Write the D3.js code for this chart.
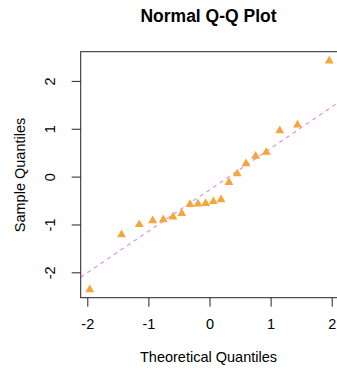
<!DOCTYPE html>
<html>
<head>
<meta charset="utf-8">
<script src="https://cdn.jsdelivr.net/npm/d3@7"></script>
<style>
  body { margin: 0; background: #fff; }
  text { font-family: "Liberation Sans", Arial, sans-serif; fill: #000; }
</style>
</head>
<body>
<div id="chart"></div>
<script>
// theoretical normal quantiles (n = 20)
const theoretical = [-1.96, -1.44, -1.15, -0.93, -0.755, -0.598, -0.454, -0.319, -0.189, -0.063,
  0.063, 0.189, 0.319, 0.454, 0.598, 0.755, 0.93, 1.15, 1.44, 1.96];
// sample quantiles, sorted
const sample = [-2.34, -1.19, -0.98, -0.90, -0.88, -0.82, -0.75, -0.56, -0.55, -0.54,
  -0.50, -0.46, -0.10, 0.08, 0.29, 0.45, 0.53, 0.98, 1.10, 2.44];
const xTicks = [-2, -1, 0, 1, 2];
const yTicks = [-2, -1, 0, 1, 2];
// reference line (qqline)
const lineIntercept = -0.277;
const lineSlope = 0.865;

const width = 337, height = 371;
const plot = { left: 80.7, right: 337.5, top: 51.7, bottom: 297.7 };

const x = d3.scaleLinear().domain([-2.108, 2.095]).range([plot.left, plot.right]);
const y = d3.scaleLinear().domain([-2.53, 2.61]).range([plot.bottom, plot.top]);

const svg = d3.select("#chart").append("svg")
  .attr("width", width)
  .attr("height", height);

svg.append("defs").append("clipPath").attr("id", "clip")
  .append("rect")
  .attr("x", plot.left).attr("y", plot.top)
  .attr("width", plot.right - plot.left).attr("height", plot.bottom - plot.top);

// title
svg.append("text")
  .attr("x", 208.5)
  .attr("y", 22)
  .attr("text-anchor", "middle")
  .style("font-size", "17.5px")
  .style("font-weight", "bold")
  .text("Normal Q-Q Plot");

// qq line
const xd = x.domain();
svg.append("line")
  .attr("clip-path", "url(#clip)")
  .attr("x1", x(xd[0])).attr("y1", y(lineIntercept + lineSlope * xd[0]))
  .attr("x2", x(xd[1])).attr("y2", y(lineIntercept + lineSlope * xd[1]))
  .attr("stroke", "#e58ef0")
  .attr("stroke-width", 1.2)
  .attr("stroke-dasharray", "4,4");

// points
const pts = theoretical.map((t, i) => ({ t: t, s: sample[i] }));
svg.append("g").selectAll("path")
  .data(pts)
  .join("path")
  .attr("transform", d => `translate(${x(d.t)},${y(d.s) + 1})`)
  .attr("d", d3.symbol().type(d3.symbolTriangle).size(34))
  .attr("fill", "#f5a53a");

// box
svg.append("rect")
  .attr("x", plot.left).attr("y", plot.top)
  .attr("width", plot.right - plot.left).attr("height", plot.bottom - plot.top)
  .attr("fill", "none")
  .attr("stroke", "#222")
  .attr("stroke-width", 1);

// x axis
const xAxis = svg.append("g")
  .attr("transform", `translate(0,${plot.bottom})`)
  .call(d3.axisBottom(x).tickValues(xTicks).tickSize(9).tickPadding(12).tickFormat(d => String(d)));
xAxis.select(".domain").remove();
xAxis.selectAll("line").attr("stroke", "#222");
xAxis.selectAll("text").style("font-size", "14.5px").attr("fill", "#000");

// y axis
const yAxis = svg.append("g")
  .attr("transform", `translate(${plot.left},0)`)
  .call(d3.axisLeft(y).tickValues(yTicks).tickSize(9).tickFormat(d => String(d)));
yAxis.select(".domain").remove();
yAxis.selectAll("line").attr("stroke", "#222");
yAxis.selectAll("text")
  .attr("x", 0).attr("dy", null)
  .attr("text-anchor", "middle")
  .attr("transform", "translate(-26,0) rotate(-90)")
  .attr("y", 0)
  .style("font-size", "14.5px")
  .attr("fill", "#000");

// axis titles
svg.append("text")
  .attr("x", 208.5)
  .attr("y", 362)
  .attr("text-anchor", "middle")
  .style("font-size", "14.5px")
  .text("Theoretical Quantiles");

svg.append("text")
  .attr("transform", "translate(25,175) rotate(-90)")
  .attr("text-anchor", "middle")
  .style("font-size", "14.5px")
  .text("Sample Quantiles");
</script>
</body>
</html>
